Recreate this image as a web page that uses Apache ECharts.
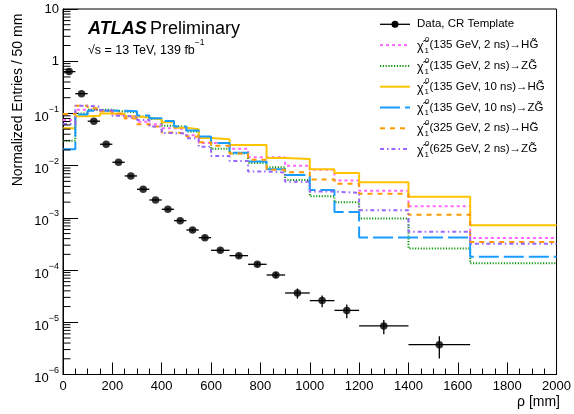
<!DOCTYPE html>
<html><head><meta charset="utf-8">
<script src="https://cdn.jsdelivr.net/npm/echarts@6/dist/echarts.min.js"></script>
<style>html,body{margin:0;padding:0;background:#fff}#c{width:574px;height:414px}</style>
</head><body><div id="c"></div>
<script>
// ---- data ----
const binEdges = [0,50,100,150,200,250,300,350,400,450,500,550,600,675,750,825,900,1000,1100,1200,1400,1650,2000];
const dataValues = [0.632,0.239,0.071,0.0257,0.0116,0.00635,0.00353,0.0022,0.00146,0.000884,0.000586,0.000417,0.000239,0.000189,0.000129,8.05e-5,3.64e-5,2.6e-5,1.69e-5,8.5e-6,3.72e-6];
const dataErrors = [0.006,0.0024,0.0014,0.0005,0.0003,0.0002,0.00014,0.0001,0.00007,0.00005,0.00004,0.00003,0.00002,0.000017,0.000013,0.00001,0.000008,0.0000065,0.000005,0.0000026,0.0000017];
const sig135_2ns_HG  = [0.075,0.117,0.117,0.11,0.094,0.083,0.069,0.062,0.052,0.05,0.038,0.027,0.027,0.021,0.0145,0.0145,0.0099,0.0083,0.0052,0.0033,0.00167,0.00041];
const sig135_2ns_ZG  = [0.030,0.1,0.117,0.117,0.108,0.105,0.087,0.078,0.058,0.055,0.045,0.034,0.021,0.017,0.0112,0.0093,0.0053,0.0026,0.002,0.00097,0.00026,0.000135];
const sig135_10ns_HG = [0.052,0.088,0.09,0.1,0.097,0.088,0.083,0.077,0.068,0.053,0.05,0.034,0.032,0.0248,0.0248,0.014,0.0134,0.0085,0.0072,0.0048,0.00255,0.00072];
const sig135_10ns_ZG = [0.0205,0.095,0.113,0.113,0.113,0.11,0.091,0.081,0.072,0.056,0.047,0.036,0.027,0.0177,0.012,0.0085,0.0066,0.0034,0.0013,0.00042,0.00042,0.00018];
const sig325_2ns_HG  = [0.098,0.14,0.126,0.11,0.1,0.08,0.062,0.056,0.043,0.042,0.036,0.028,0.024,0.017,0.013,0.0083,0.0075,0.0054,0.0045,0.0029,0.00115,0.000345];
const sig625_2ns_ZG  = [0.063,0.14,0.135,0.115,0.09,0.087,0.075,0.056,0.042,0.041,0.0335,0.023,0.0153,0.0123,0.0077,0.0074,0.0049,0.0032,0.003,0.0014,0.00054,0.00032];
const dataLabel = 'Data, CR Template';
const sigLabels = ['(135 GeV, 2 ns)\u2192HG\u0303','(135 GeV, 2 ns)\u2192ZG\u0303','(135 GeV, 10 ns)\u2192HG\u0303','(135 GeV, 10 ns)\u2192ZG\u0303','(325 GeV, 2 ns)\u2192HG\u0303','(625 GeV, 2 ns)\u2192ZG\u0303'];
const xTitle = '\u03c1 [mm]';
const yTitle = 'Normalized Entries / 50 mm';

// ---- styling ----
const FONT = "'Liberation Sans', Arial, Helvetica, sans-serif";
const sigSeries = [
  {vals: sig135_2ns_HG,  color:'#ff66ff', dash:[3,3]},
  {vals: sig135_2ns_ZG,  color:'#129a12', dash:[1.2,1.6]},
  {vals: sig135_10ns_HG, color:'#ffc400', dash:'solid'},
  {vals: sig135_10ns_ZG, color:'#1a9bff', dash:[20,5]},
  {vals: sig325_2ns_HG,  color:'#ff9900', dash:[5,5]},
  {vals: sig625_2ns_ZG,  color:'#9966ff', dash:[4,3,1.5,3]}
];

const chart = echarts.init(document.getElementById('c'), null, {renderer:'canvas'});

function histLine(vals){
  const pts = [];
  for (let i=0;i<vals.length;i++){ pts.push([binEdges[i], vals[i]]); pts.push([binEdges[i+1], vals[i]]); }
  return pts;
}
const series = [];
sigSeries.forEach((s,i)=>{
  series.push({type:'line', name:'sig'+i, data: histLine(s.vals), showSymbol:false, symbol:'none',
    lineStyle:{color:s.color, width:2, type:s.dash}, clip:true, z:2+i, silent:true});
});
const dataPts = dataValues.map((v,i)=>[(binEdges[i]+binEdges[i+1])/2, v, binEdges[i], binEdges[i+1], v-dataErrors[i], v+dataErrors[i]]);
series.push({type:'custom', name:'err', data:dataPts, encode:{x:0,y:1}, z:20, silent:true,
  renderItem:(params, api)=>{
    const y = api.value(1);
    const a = api.coord([api.value(2), y]), b = api.coord([api.value(3), y]);
    const c = api.coord([api.value(0), api.value(4)]), d = api.coord([api.value(0), api.value(5)]);
    return {type:'group', children:[
      {type:'line', shape:{x1:a[0],y1:a[1],x2:b[0],y2:b[1]}, style:{stroke:'#000', lineWidth:1.3}},
      {type:'line', shape:{x1:c[0],y1:c[1],x2:d[0],y2:d[1]}, style:{stroke:'#000', lineWidth:1.3}}
    ]};
  }});
series.push({type:'scatter', name:'data', data:dataPts.map(p=>[p[0],p[1]]), symbol:'circle', symbolSize:7.5,
  itemStyle:{color:'#000'}, z:21, silent:true});

// minor log ticks on y axis
const minorVals = [];
for (let e=-6;e<1;e++) for (let m=2;m<10;m++) minorVals.push([0, m*Math.pow(10,e)]);
series.push({type:'custom', name:'minor', data:minorVals, encode:{x:0,y:1}, z:30, silent:true, clip:false,
  renderItem:(params, api)=>{
    const p = api.coord([api.value(0), api.value(1)]);
    return {type:'line', shape:{x1:p[0],y1:p[1],x2:p[0]+7.5,y2:p[1]}, style:{stroke:'#000', lineWidth:1}};
  }});

// legend built as graphics
const legendX1 = 380, legendX2 = 410, textX = 417;
const rowY0 = 24.3, rowDy = 20.8;
const graphics = [];
graphics.push({type:'line', shape:{x1:legendX1,y1:rowY0,x2:legendX2,y2:rowY0}, style:{stroke:'#000', lineWidth:1.3}, z:100});
graphics.push({type:'circle', shape:{cx:(legendX1+legendX2)/2, cy:rowY0, r:3.5}, style:{fill:'#000'}, z:100});
graphics.push({type:'text', x:textX, y:rowY0, style:{text:dataLabel, font:'11.5px '+FONT, fill:'#000', verticalAlign:'middle', align:'left'}, z:100});
sigSeries.forEach((s,i)=>{
  const y = rowY0 + rowDy*(i+1);
  graphics.push({type:'line', shape:{x1:legendX1,y1:y,x2:legendX2,y2:y}, style:{stroke:s.color, lineWidth:2, lineDash: s.dash==='solid'?null:s.dash}, z:100});
  graphics.push({type:'text', x:textX, y:y+1.5, style:{text:'\u03c7\u0303', font:'12.5px '+FONT, fill:'#000', verticalAlign:'middle', align:'left'}, z:100});
  graphics.push({type:'text', x:textX+8, y:y-5.5, style:{text:'0', font:'8px '+FONT, fill:'#000', verticalAlign:'middle', align:'left'}, z:100});
  graphics.push({type:'text', x:textX+7.5, y:y+5.5, style:{text:'1', font:'8px '+FONT, fill:'#000', verticalAlign:'middle', align:'left'}, z:100});
  graphics.push({type:'text', x:textX+12.5, y:y, style:{text:sigLabels[i], font:'11.5px '+FONT, fill:'#000', verticalAlign:'middle', align:'left'}, z:100});
});
// ATLAS label
graphics.push({type:'text', x:88, y:29.5, style:{text:'{a|ATLAS} {b|Preliminary}', verticalAlign:'middle', align:'left',
  rich:{a:{font:'italic bold 18px '+FONT, fill:'#000'}, b:{font:'18px '+FONT, fill:'#000'}}}, z:100});
graphics.push({type:'text', x:88, y:47.5, style:{text:'{n|\u221as = 13 TeV, 139 fb}{s|\u22121}', verticalAlign:'middle', align:'left',
  rich:{n:{font:'12.5px '+FONT, fill:'#000', lineHeight:14, padding:[6,0,0,0]}, s:{font:'8.5px '+FONT, fill:'#000', lineHeight:10, padding:[0,0,10,0]}}}, z:100});
// axis titles
graphics.push({type:'text', x:18, y:100, rotation:Math.PI/2, style:{text:yTitle, font:'14px '+FONT, fill:'#000', align:'center', verticalAlign:'middle'}, z:100});
graphics.push({type:'text', x:560, y:402, style:{text:xTitle, font:'14px '+FONT, fill:'#000', align:'right', verticalAlign:'middle'}, z:100});

const option = {
  animation:false,
  backgroundColor:'#fff',
  grid:{left:63, right:14, top:9, bottom:39.5, show:true, borderColor:'#000', borderWidth:1, backgroundColor:'transparent', containLabel:false},
  xAxis:{type:'value', min:0, max:2000, interval:200,
    axisLine:{show:true, lineStyle:{color:'#000', width:1}},
    axisTick:{show:true, inside:true, length:12, lineStyle:{color:'#000', width:1}},
    minorTick:{show:true, splitNumber:4, length:6, lineStyle:{color:'#000', width:1}},
    splitLine:{show:false}, minorSplitLine:{show:false},
    axisLabel:{show:true, color:'#000', fontSize:13, fontFamily:FONT, margin:5, showMinLabel:true, showMaxLabel:true,
      formatter:(v)=>String(v)}},
  yAxis:{type:'log', logBase:10, min:1e-6, max:10, interval:1,
    axisLine:{show:true, lineStyle:{color:'#000', width:1}},
    axisTick:{show:true, inside:true, length:15, lineStyle:{color:'#000', width:1}},
    splitLine:{show:false},
    axisLabel:{show:true, margin:4, color:'#000', fontFamily:FONT,
      formatter:(v)=>{ const e = Math.round(Math.log10(v)); if (e===1) return '{c|10}'; if (e===0) return '{c|1}'; return '{b|10}{s|'+(e<0?'\u2212':'')+Math.abs(e)+'}'; },
      rich:{c:{fontSize:13, fontFamily:FONT, color:'#000'},
            b:{fontSize:13, fontFamily:FONT, color:'#000', lineHeight:14, padding:[8,0,0,0]},
            s:{fontSize:9, fontFamily:FONT, color:'#000', lineHeight:10, padding:[2,0,10,0]}}}},
  series: series,
  graphic: graphics
};
chart.setOption(option);
</script></body></html>
